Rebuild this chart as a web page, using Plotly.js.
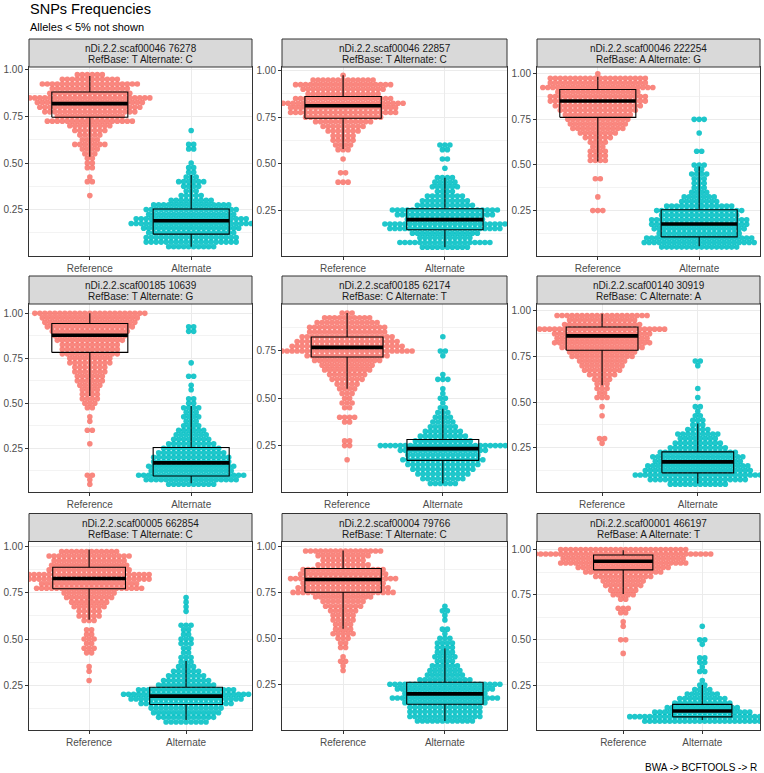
<!DOCTYPE html>
<html><head><meta charset="utf-8">
<script src="https://cdn.plot.ly/plotly-3.0.1.min.js"></script>
<style>html,body{margin:0;padding:0;background:#fff;} #chart{width:764px;height:773px;}</style>
</head><body><div id="chart"></div>
<script>
// ---------- DATA ----------
const LEVELS = [0.05,0.075,0.10,0.125,0.15,0.175,0.20,0.225,0.25,0.275,
                0.30,0.325,0.35,0.375,0.40,0.425,0.45,0.475,0.50,0.525,
                0.55,0.575,0.60,0.625,0.65,0.675,0.70,0.725,0.75,0.775,
                0.80,0.825,0.85,0.875,0.90,0.925,0.95,0.975,1.00];
const CATEGORIES = ['Reference','Alternate'];
const SNP_IDS = ['nDi.2.2.scaf00046 76278','nDi.2.2.scaf00046 22857','nDi.2.2.scaf00046 222254',
                 'nDi.2.2.scaf00185 10639','nDi.2.2.scaf00185 62174','nDi.2.2.scaf00140 30919',
                 'nDi.2.2.scaf00005 662854','nDi.2.2.scaf00004 79766','nDi.2.2.scaf00001 466197'];
const REF_BASES = ['T','T','A','T','C','C','T','T','A'];
const ALT_BASES = ['C','C','G','G','T','A','C','C','T'];

// box statistics per panel
const REF_LOWER  = [0.534,0.578,0.519,0.541,0.551,0.592,0.604,0.552,0.754];
const REF_Q1     = [0.746,0.744,0.761,0.783,0.718,0.784,0.773,0.751,0.887];
const REF_MEDIAN = [0.819,0.811,0.851,0.878,0.769,0.863,0.828,0.820,0.935];
const REF_Q3     = [0.882,0.861,0.914,0.944,0.824,0.912,0.889,0.880,0.969];
const REF_UPPER  = [0.968,0.975,0.984,1.000,0.950,0.985,0.985,0.978,0.996];
const ALT_LOWER  = [0.050,0.050,0.055,0.056,0.050,0.053,0.060,0.050,0.056];
const ALT_Q1     = [0.118,0.144,0.106,0.096,0.172,0.112,0.145,0.141,0.074];
const ALT_MEDIAN = [0.190,0.198,0.177,0.169,0.234,0.172,0.190,0.198,0.106];
const ALT_Q3     = [0.253,0.257,0.255,0.254,0.282,0.227,0.238,0.261,0.143];
const ALT_UPPER  = [0.435,0.423,0.492,0.485,0.445,0.382,0.381,0.445,0.250];

// number of samples per frequency level (aligned with LEVELS)
const REF_COUNTS_P1 = [0,0,0,0,0,0,0,0,0,0, 0,1,0,0,2,1,0,2,2,2, 3,4,7,4,5,7,9,18,14,19, 21,22,25,17,16,20,12,6,0];
const ALT_COUNTS_P1 = [10,19,19,18,20,25,23,18,19,16, 9,5,3,4,6,3,2,2,1,0, 0,2,2,0,0,1,0,0,0,0, 0,0,0,0,0,0,0,0,0];
const REF_COUNTS_P2 = [0,0,0,0,0,0,0,0,0,0, 0,0,0,0,3,0,2,0,0,1, 0,3,4,5,5,7,9,12,16,22, 22,25,20,15,17,20,13,1,0];
const ALT_COUNTS_P2 = [10,19,11,14,23,25,16,20,22,12, 10,8,4,6,5,4,0,1,0,2, 0,2,3,0,0,0,0,0,0,0, 0,0,0,0,0,0,0,0,0];
const REF_COUNTS_P3 = [0,0,0,0,0,0,0,0,3,0, 0,1,0,0,0,2,0,0,0,4, 4,4,3,4,6,8,11,12,13,14, 16,18,20,20,17,23,20,20,1];
const ALT_COUNTS_P3 = [16,23,22,17,19,20,20,16,18,14, 8,7,4,3,3,3,4,2,3,0, 0,2,0,0,0,1,0,0,3,0, 0,0,0,0,0,0,0,0,0];
const REF_COUNTS_P4 = [1,1,2,0,0,0,0,0,0,1, 0,0,2,0,1,1,0,2,3,4, 4,4,5,6,6,7,7,9,9,12, 12,12,14,15,16,18,19,20,23];
const ALT_COUNTS_P4 = [10,19,22,17,18,16,16,14,12,10, 8,7,6,4,3,4,3,4,2,2, 0,1,1,0,2,0,0,1,0,0, 0,0,0,0,2,2,0,0,0];
const REF_COUNTS_P5 = [0,0,0,0,0,1,0,0,2,2, 0,0,0,2,4,0,2,3,2,3, 4,5,7,8,10,11,14,17,27,23, 21,19,16,16,13,10,3,0,0];
const ALT_COUNTS_P5 = [6,9,11,13,15,17,15,18,26,12, 10,8,6,5,4,3,2,1,2,1, 1,0,3,1,0,0,0,1,2,0, 0,1,0,0,0,0,0,0,0];
const REF_COUNTS_P6 = [0,0,0,0,0,0,0,0,0,1, 2,0,0,0,0,1,0,1,0,3, 2,3,3,4,6,8,9,10,13,14, 17,20,19,20,26,16,14,19,0];
const ALT_COUNTS_P6 = [12,20,26,22,21,18,19,16,12,10, 8,9,5,3,3,2,1,2,0,1, 0,1,0,0,0,0,1,2,0,0, 0,0,0,0,0,0,0,0,0];
const REF_COUNTS_P7 = [0,0,0,0,0,0,0,0,0,1, 0,1,1,0,0,2,3,2,3,2, 2,0,3,5,5,7,8,10,11,22, 20,25,25,17,16,15,17,12,0];
const ALT_COUNTS_P7 = [9,12,14,15,19,23,26,20,12,10, 8,6,4,3,3,2,2,3,3,2, 2,3,0,0,1,1,1,1,0,0, 0,0,0,0,0,0,0,0,0];
const REF_COUNTS_P8 = [0,0,0,0,0,0,0,0,0,0, 0,1,1,2,1,0,2,2,3,5, 4,4,5,5,6,8,9,12,21,19, 17,22,18,17,11,9,11,16,0];
const ALT_COUNTS_P8 = [12,15,15,15,17,22,17,20,23,11, 8,7,6,4,5,4,4,4,3,1, 2,0,1,1,2,1,0,0,0,0, 0,0,0,0,0,0,0,0,0];
const REF_COUNTS_P9 = [0,0,0,0,0,0,0,0,0,0, 0,0,0,0,0,1,0,0,2,0, 0,1,1,0,2,3,0,2,5,6, 8,9,12,16,19,26,25,36,26];
const ALT_COUNTS_P9 = [24,30,20,15,12,10,7,4,2,1, 0,2,1,2,2,0,0,1,2,0, 0,1,0,0,0,0,0,0,0,0, 0,0,0,0,0,0,0,0,0];

const REF_COUNTS = [REF_COUNTS_P1,REF_COUNTS_P2,REF_COUNTS_P3,REF_COUNTS_P4,REF_COUNTS_P5,REF_COUNTS_P6,REF_COUNTS_P7,REF_COUNTS_P8,REF_COUNTS_P9];
const ALT_COUNTS = [ALT_COUNTS_P1,ALT_COUNTS_P2,ALT_COUNTS_P3,ALT_COUNTS_P4,ALT_COUNTS_P5,ALT_COUNTS_P6,ALT_COUNTS_P7,ALT_COUNTS_P8,ALT_COUNTS_P9];

// ---------- LAYOUT GEOMETRY (pixels) ----------
const W = 764, H = 773;
const COLS_PX = [[29,252],[282,507],[537,760]];
const ROWS_PX = [[67,255.5],[304,492],[541.5,729.5]];
const STRIP_H = 28;
const X_RANGES = [[0.4,2.6],[0.4,2.61],[0.4,2.6],[0.4,2.6],[0.32,2.67],[0.32,2.65],[0.38,2.68],[0.4,2.61],[-0.09,2.73]];
const Y_RANGES = [[0.003,1.016],[0.005,1.02],[0.004,1.037],[0.007,1.052],[0.005,0.998],[0.007,1.038],[0.009,1.029],[0.004,1.027],[0.004,1.044]];
const COLORS = ['#F8766D','#00BFC4'];
const DOT_SPACING_PX = 5;
const BOX_WIDTH = 0.75;
const FONT = 'Liberation Sans, Arial, sans-serif';

const traces = [];
const layout = {
  width: W, height: H,
  margin: {l:0,r:0,t:0,b:0},
  paper_bgcolor: '#fff', plot_bgcolor: '#fff',
  showlegend: false, hovermode: false,
  font: {family: FONT},
  shapes: [], annotations: []
};

for (let k = 0; k < 9; k++) {
  const col = k % 3, row = Math.floor(k / 3);
  const sfx = k === 0 ? '' : String(k + 1);
  const xa = 'x' + sfx, ya = 'y' + sfx;
  const cx = COLS_PX[col], ry = ROWS_PX[row];
  const xr = X_RANGES[k], yr = Y_RANGES[k];
  const pxPerUnit = (cx[1] - cx[0]) / (xr[1] - xr[0]);
  const dx = DOT_SPACING_PX / pxPerUnit;

  // beeswarm points
  [REF_COUNTS[k], ALT_COUNTS[k]].forEach((counts, c) => {
    const xs = [], ys = [];
    counts.forEach((n, li) => {
      for (let i = 0; i < n; i++) {
        xs.push((c + 1) + (i - (n - 1) / 2) * dx);
        ys.push(LEVELS[li]);
      }
    });
    traces.push({type:'scatter', mode:'markers', x:xs, y:ys, xaxis:xa, yaxis:ya,
      marker:{size:5.6, color:COLORS[c], opacity:0.88, line:{width:0}}, hoverinfo:'skip'});
  });

  // boxplots drawn on top of the points
  const stats = [
    [REF_LOWER[k],REF_Q1[k],REF_MEDIAN[k],REF_Q3[k],REF_UPPER[k]],
    [ALT_LOWER[k],ALT_Q1[k],ALT_MEDIAN[k],ALT_Q3[k],ALT_UPPER[k]]
  ];
  stats.forEach((s, c) => {
    const pos = c + 1, L = pos - BOX_WIDTH/2, R = pos + BOX_WIDTH/2;
    traces.push({type:'scatter', mode:'lines',
      x:[L, R, R, L, L, null, pos, pos, null, pos, pos],
      y:[s[1], s[1], s[3], s[3], s[1], null, s[3], s[4], null, s[1], s[0]],
      xaxis:xa, yaxis:ya, line:{color:'#000', width:1.1}, hoverinfo:'skip', connectgaps:false});
    traces.push({type:'scatter', mode:'lines', x:[L, R], y:[s[2], s[2]],
      xaxis:xa, yaxis:ya, line:{color:'#000', width:3.6}, hoverinfo:'skip'});
  });

  layout['xaxis' + sfx] = {
    domain:[cx[0]/W, cx[1]/W], anchor:ya, range:xr, fixedrange:true,
    tickmode:'array', tickvals:[1,2], ticktext:CATEGORIES,
    showgrid:true, gridcolor:'#EBEBEB', gridwidth:1, zeroline:false,
    showline:true, mirror:true, linecolor:'#333333', linewidth:1,
    ticks:'outside', ticklen:3, tickcolor:'#333333',
    tickfont:{family:FONT, size:10, color:'#4D4D4D'}
  };
  layout['yaxis' + sfx] = {
    domain:[1 - ry[1]/H, 1 - ry[0]/H], anchor:xa, range:yr, fixedrange:true,
    tickmode:'linear', tick0:0, dtick:0.25, tickformat:'.2f',
    showgrid:true, gridcolor:'#EBEBEB', gridwidth:1, zeroline:false,
    minor:{tick0:0.125, dtick:0.25, showgrid:true, gridcolor:'#F3F3F3', gridwidth:1, ticklen:0},
    showline:true, mirror:true, linecolor:'#333333', linewidth:1,
    ticks:'outside', ticklen:3, tickcolor:'#333333',
    tickfont:{family:FONT, size:10, color:'#4D4D4D'}
  };

  // strip
  const sTop = ry[0] - STRIP_H;
  layout.shapes.push({type:'rect', xref:'paper', yref:'paper',
    x0:cx[0]/W, x1:cx[1]/W, y0:1 - ry[0]/H, y1:1 - sTop/H,
    fillcolor:'#D9D9D9', line:{color:'#333333', width:1}, layer:'above'});
  const midX = (cx[0] + cx[1]) / 2 / W;
  layout.annotations.push({xref:'paper', yref:'paper', x:midX, y:1 - (sTop + 9.5)/H,
    text:SNP_IDS[k], showarrow:false, xanchor:'center', yanchor:'middle',
    font:{family:FONT, size:10, color:'#1A1A1A'}});
  layout.annotations.push({xref:'paper', yref:'paper', x:midX, y:1 - (sTop + 20.5)/H,
    text:'RefBase: ' + REF_BASES[k] + ' Alternate: ' + ALT_BASES[k], showarrow:false, xanchor:'center', yanchor:'middle',
    font:{family:FONT, size:10, color:'#1A1A1A'}});
}

layout.annotations.push({xref:'paper', yref:'paper', x:28/W, y:1 - 8.5/H, xanchor:'left', yanchor:'middle',
  text:'SNPs Frequencies', showarrow:false, font:{family:FONT, size:14.5, color:'#000'}});
layout.annotations.push({xref:'paper', yref:'paper', x:28/W, y:1 - 26.5/H, xanchor:'left', yanchor:'middle',
  text:'Alleles &lt; 5% not shown', showarrow:false, font:{family:FONT, size:11, color:'#000'}});
layout.annotations.push({xref:'paper', yref:'paper', x:759/W, y:1 - 767/H, xanchor:'right', yanchor:'middle',
  text:'BWA -&gt; BCFTOOLS -&gt; R', showarrow:false, font:{family:FONT, size:10, color:'#000'}});

Plotly.newPlot('chart', traces, layout, {staticPlot:true, displayModeBar:false});
</script>
</body></html>
